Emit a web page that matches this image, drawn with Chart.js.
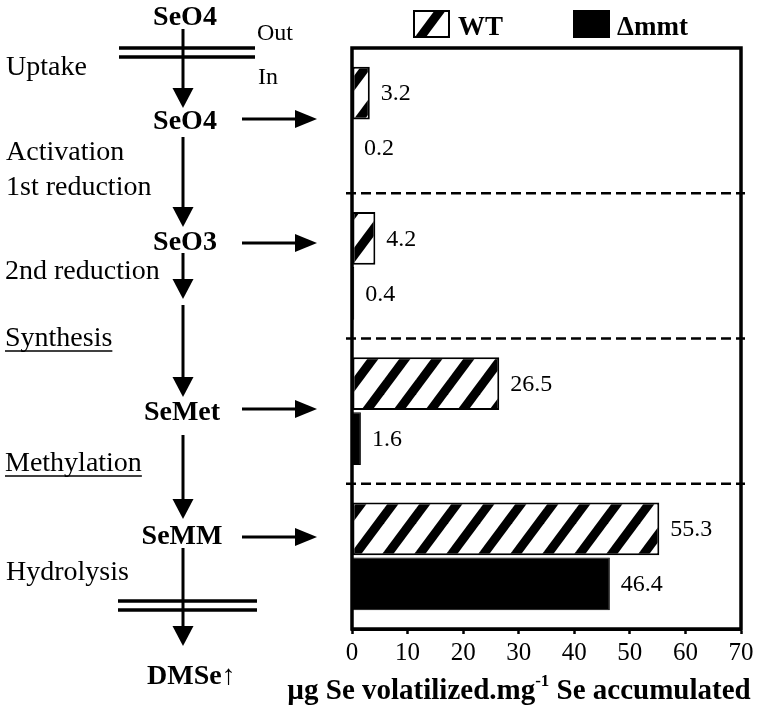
<!DOCTYPE html>
<html lang="en">
<head>
<meta charset="UTF-8">
<title>Se volatilization, WT vs Δmmt</title>
<script src="https://cdn.jsdelivr.net/npm/chart.js"></script>
<style>
  body { margin: 0; background: #fff; }
  #wrap { width: 760px; height: 713px; }
</style>
</head>
<body>
<div id="wrap"><canvas id="seChart" width="760" height="713"></canvas></div>
<script>
const categories = ['SeO4', 'SeO3', 'SeMet', 'SeMM'];
const seriesNames = ['WT', 'Δmmt'];
const wtValues = [3.2, 4.2, 26.5, 55.3];
const mmtValues = [0.2, 0.4, 1.6, 46.4];
const xTickMin = 0, xTickMax = 70, xTickStep = 10;

const SERIF = "'Liberation Serif', 'Times New Roman', serif";
const canvas = document.getElementById('seChart');
const ctx0 = canvas.getContext('2d');

// slanted "/" hatch for WT bars (about 32px apart)
function makeHatch() {
    const W = 32, H = 43;
    const c = document.createElement('canvas');
    c.width = W; c.height = H;
    const g = c.getContext('2d');
    g.fillStyle = '#fff';
    g.fillRect(0, 0, W, H);
    g.strokeStyle = '#000';
    g.lineWidth = 9;
    for (const k of [-W, 0, W]) {
        // run past the tile edges so the stripes join up when tiled
        g.beginPath();
        g.moveTo(k - W, 2 * H);
        g.lineTo(k + 2 * W, -H);
        g.stroke();
    }
    return ctx0.createPattern(c, 'repeat');
}
const hatch = makeHatch();

function vArrow(ctx, x, y0, tip) {
    ctx.lineWidth = 3;
    ctx.beginPath(); ctx.moveTo(x, y0); ctx.lineTo(x, tip - 18); ctx.stroke();
    ctx.beginPath();
    ctx.moveTo(x - 10.5, tip - 20); ctx.lineTo(x + 10.5, tip - 20); ctx.lineTo(x, tip);
    ctx.closePath(); ctx.fill();
}
function hArrow(ctx, x0, tip, y) {
    ctx.lineWidth = 3;
    ctx.beginPath(); ctx.moveTo(x0, y); ctx.lineTo(tip - 20, y); ctx.stroke();
    ctx.beginPath();
    ctx.moveTo(tip - 22, y - 9); ctx.lineTo(tip - 22, y + 9); ctx.lineTo(tip, y);
    ctx.closePath(); ctx.fill();
}
function doubleLine(ctx, x0, x1, y) {
    ctx.lineWidth = 3.5;
    ctx.beginPath();
    ctx.moveTo(x0, y); ctx.lineTo(x1, y);
    ctx.moveTo(x0, y + 9); ctx.lineTo(x1, y + 9);
    ctx.stroke();
}
function underlined(ctx, text, x, y) {
    ctx.fillText(text, x, y);
    const w = ctx.measureText(text).width;
    ctx.lineWidth = 1.5;
    ctx.beginPath(); ctx.moveTo(x, y + 5); ctx.lineTo(x + w, y + 5); ctx.stroke();
}

const pathwayPlugin = {
    id: 'pathway',
    beforeDatasetsDraw(chart) {
        const ctx = chart.ctx, area = chart.chartArea, y = chart.scales.y;
        ctx.save();
        ctx.strokeStyle = '#000';
        ctx.lineWidth = 2.5;
        ctx.setLineDash([10, 5]);
        for (let i = 0; i < categories.length - 1; i++) {
            const yy = (y.getPixelForValue(i) + y.getPixelForValue(i + 1)) / 2;
            ctx.beginPath();
            ctx.moveTo(area.left - 6, yy);
            ctx.lineTo(area.right + 4, yy);
            ctx.stroke();
        }
        ctx.restore();
    },
    afterDatasetsDraw(chart) {
        const ctx = chart.ctx, area = chart.chartArea;
        ctx.save();
        ctx.strokeStyle = '#000';
        ctx.lineWidth = 3.5;
        ctx.strokeRect(area.left, area.top, area.right - area.left, area.bottom - area.top);

        // value labels
        ctx.fillStyle = '#000';
        ctx.font = '24px ' + SERIF;
        ctx.textBaseline = 'middle';
        chart.data.datasets.forEach((ds, di) => {
            chart.getDatasetMeta(di).data.forEach((bar, i) => {
                ctx.fillText(String(ds.data[i]), bar.x + 11, bar.y + 1);
            });
        });
        ctx.restore();
    },
    afterDraw(chart) {
        const ctx = chart.ctx;
        ctx.save();
        ctx.fillStyle = '#000';
        ctx.strokeStyle = '#000';
        ctx.textBaseline = 'alphabetic';

        // legend
        const legendPos = [[414, 458], [574, 617]];
        chart.data.datasets.forEach((ds, i) => {
            const [bx, tx] = legendPos[i];
            ctx.fillStyle = ds.backgroundColor;
            ctx.fillRect(bx, 11, 35, 26);
            ctx.lineWidth = 2;
            ctx.strokeRect(bx, 11, 35, 26);
            ctx.fillStyle = '#000';
            ctx.font = 'bold 27px ' + SERIF;
            ctx.textAlign = 'left';
            ctx.fillText(ds.label, tx, 35);
        });

        // axis title with superscript
        const a = 'µg Se volatilized.mg', sup = '-1', b = ' Se accumulated';
        const fBig = 'bold 29px ' + SERIF, fSup = 'bold 17px ' + SERIF;
        ctx.font = fBig; const wa = ctx.measureText(a).width, wb = ctx.measureText(b).width;
        ctx.font = fSup; const ws = ctx.measureText(sup).width;
        let x = 519 - (wa + ws + wb) / 2;
        ctx.textAlign = 'left';
        ctx.font = fBig; ctx.fillText(a, x, 699); x += wa;
        ctx.font = fSup; ctx.fillText(sup, x, 686); x += ws;
        ctx.font = fBig; ctx.fillText(b, x, 699);

        // pathway diagram on the left
        ctx.textAlign = 'center';
        ctx.font = 'bold 28px ' + SERIF;
        ctx.fillText('SeO4', 185, 25);
        ctx.fillText('SeO4', 185, 129);
        ctx.fillText('SeO3', 185, 250);
        ctx.fillText('SeMet', 182, 420);
        ctx.fillText('SeMM', 182, 544);
        ctx.textAlign = 'left';
        ctx.fillText('DMSe\u2191', 147, 684);

        ctx.font = '24px ' + SERIF;
        ctx.fillText('Out', 257, 40);
        ctx.fillText('In', 258, 84);

        ctx.font = '28px ' + SERIF;
        ctx.fillText('Uptake', 6, 75);
        ctx.fillText('Activation', 6, 160);
        ctx.fillText('1st reduction', 6, 195);
        ctx.fillText('2nd reduction', 5, 279);
        underlined(ctx, 'Synthesis', 5, 346);
        underlined(ctx, 'Methylation', 5, 471);
        ctx.fillText('Hydrolysis', 6, 580);

        doubleLine(ctx, 119, 255, 48);
        doubleLine(ctx, 118, 257, 601);

        vArrow(ctx, 183, 29, 108);
        vArrow(ctx, 183, 137, 227);
        vArrow(ctx, 183, 253, 299);
        vArrow(ctx, 183, 305, 397);
        vArrow(ctx, 183, 435, 519);
        vArrow(ctx, 183, 548, 646);

        hArrow(ctx, 242, 317, 119);
        hArrow(ctx, 242, 317, 243);
        hArrow(ctx, 242, 317, 409);
        hArrow(ctx, 242, 317, 537);
        ctx.restore();
    }
};

new Chart(canvas, {
    type: 'bar',
    data: {
        labels: categories,
        datasets: [{
            label: seriesNames[0],
            data: wtValues,
            backgroundColor: hatch,
            borderColor: '#000',
            borderWidth: 2,
            borderSkipped: false,
            barPercentage: 0.96,
            categoryPercentage: 0.757
        }, {
            label: seriesNames[1],
            data: mmtValues,
            backgroundColor: '#000',
            borderColor: '#000',
            borderWidth: 1,
            barPercentage: 0.96,
            categoryPercentage: 0.757
        }]
    },
    options: {
        indexAxis: 'y',
        responsive: false,
        animation: false,
        layout: { padding: { left: 352, right: 19, top: 48, bottom: 0 } },
        plugins: {
            legend: { display: false },
            tooltip: { enabled: false }
        },
        scales: {
            x: {
                min: xTickMin,
                max: xTickMax,
                afterFit: s => { s.height = 84; },
                ticks: {
                    stepSize: xTickStep,
                    color: '#000',
                    padding: 4,
                    font: { family: SERIF, size: 25 }
                },
                grid: {
                    drawOnChartArea: false,
                    drawTicks: true,
                    tickLength: 5,
                    tickColor: '#000',
                    tickWidth: 2.5
                },
                border: { display: true, color: '#000', width: 3 }
            },
            y: {
                display: false
            }
        }
    },
    plugins: [pathwayPlugin]
});
</script>
</body>
</html>
